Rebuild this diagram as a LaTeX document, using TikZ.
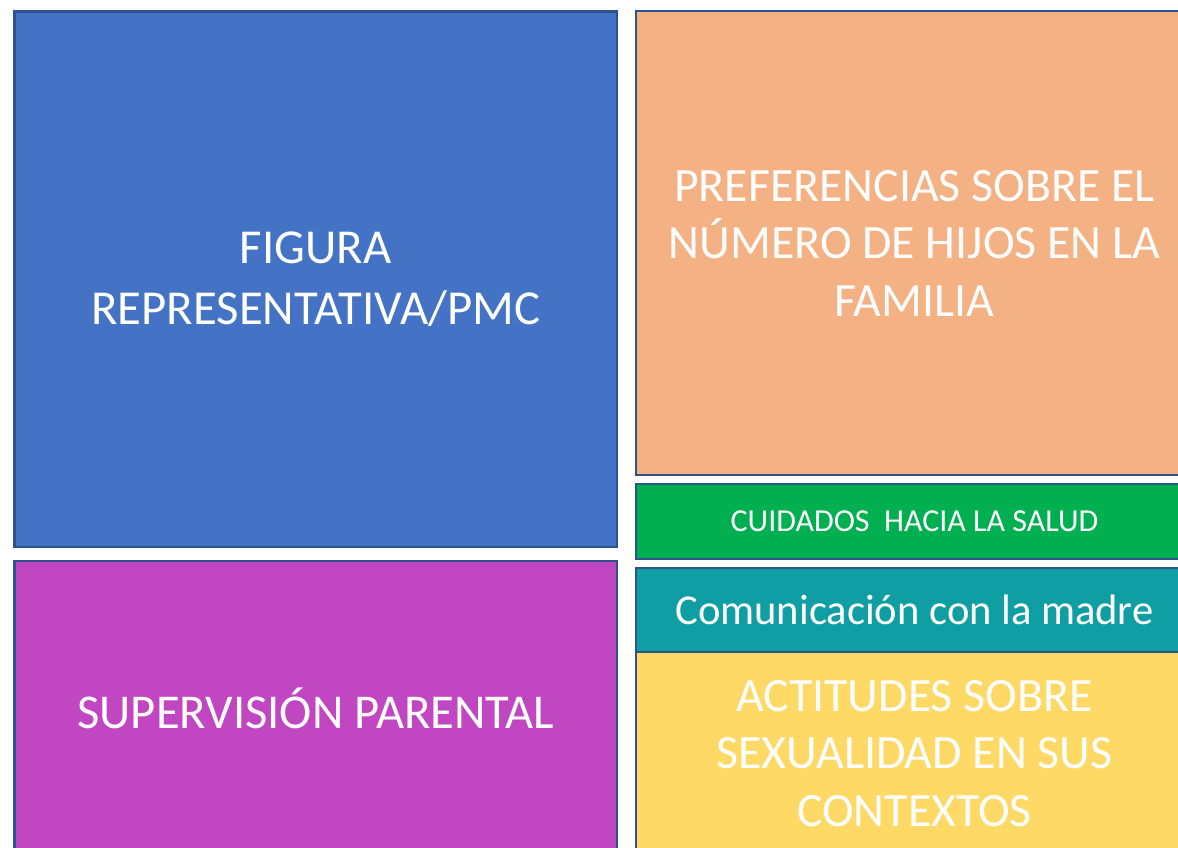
\documentclass[tikz,border=0pt]{standalone}
\usepackage{fontspec}
\setmainfont{Carlito}
\definecolor{edgeblue}{HTML}{2F528F}
\definecolor{cblue}{HTML}{4472C4}
\definecolor{corange}{HTML}{F4B183}
\definecolor{cgreen}{HTML}{00B050}
\definecolor{cteal}{HTML}{0F9EA3}
\definecolor{cpurple}{HTML}{C047C1}
\definecolor{cyellow}{HTML}{FFD966}
\tikzset{
  tile/.style={draw=edgeblue, line width=2.4pt, text=white, inner sep=0pt,
    align=center, rectangle},
  bigtext/.style={font=\fontsize{47.8}{57.5}\selectfont},
}
\begin{document}
\begin{tikzpicture}[x=1pt,y=-1pt]
\useasboundingbox (0,0) rectangle (1178,848);
\clip (0,0) rectangle (1178,848);
\node[tile, fill=cblue, minimum width=602.5pt, minimum height=535.5pt,
  font=\fontsize{48.8}{61}\selectfont] (figura) at (315.75,279.25)
  {FIGURA\\REPRESENTATIVA/PMC};
\node[tile, fill=cpurple, minimum width=602.5pt, minimum height=294pt,
  font=\fontsize{48.6}{58}\selectfont] (supervision) at (315.75,708) {SUPERVISIÓN PARENTAL};
\node[tile, fill=corange, minimum width=557pt, minimum height=464pt,
  bigtext] (preferencias) at (914.5,243)
  {PREFERENCIAS SOBRE EL\\NÚMERO DE HIJOS EN LA\\FAMILIA};
\node[tile, fill=cgreen, minimum width=557pt, minimum height=75pt,
  font=\fontsize{32}{39}\selectfont] (cuidados) at (914.5,521.5)
  {CUIDADOS\ \ HACIA LA SALUD};
\node[tile, fill=cteal, minimum width=557pt, minimum height=84pt,
  font=\fontsize{42.6}{51}\selectfont] (comunicacion) at (914.5,610)
  {Comunicación con la madre};
\node[tile, fill=cyellow, minimum width=557pt, minimum height=203pt,
  bigtext] (actitudes) at (914.5,753.5)
  {ACTITUDES SOBRE\\SEXUALIDAD EN SUS\\CONTEXTOS};
\end{tikzpicture}
\end{document}
